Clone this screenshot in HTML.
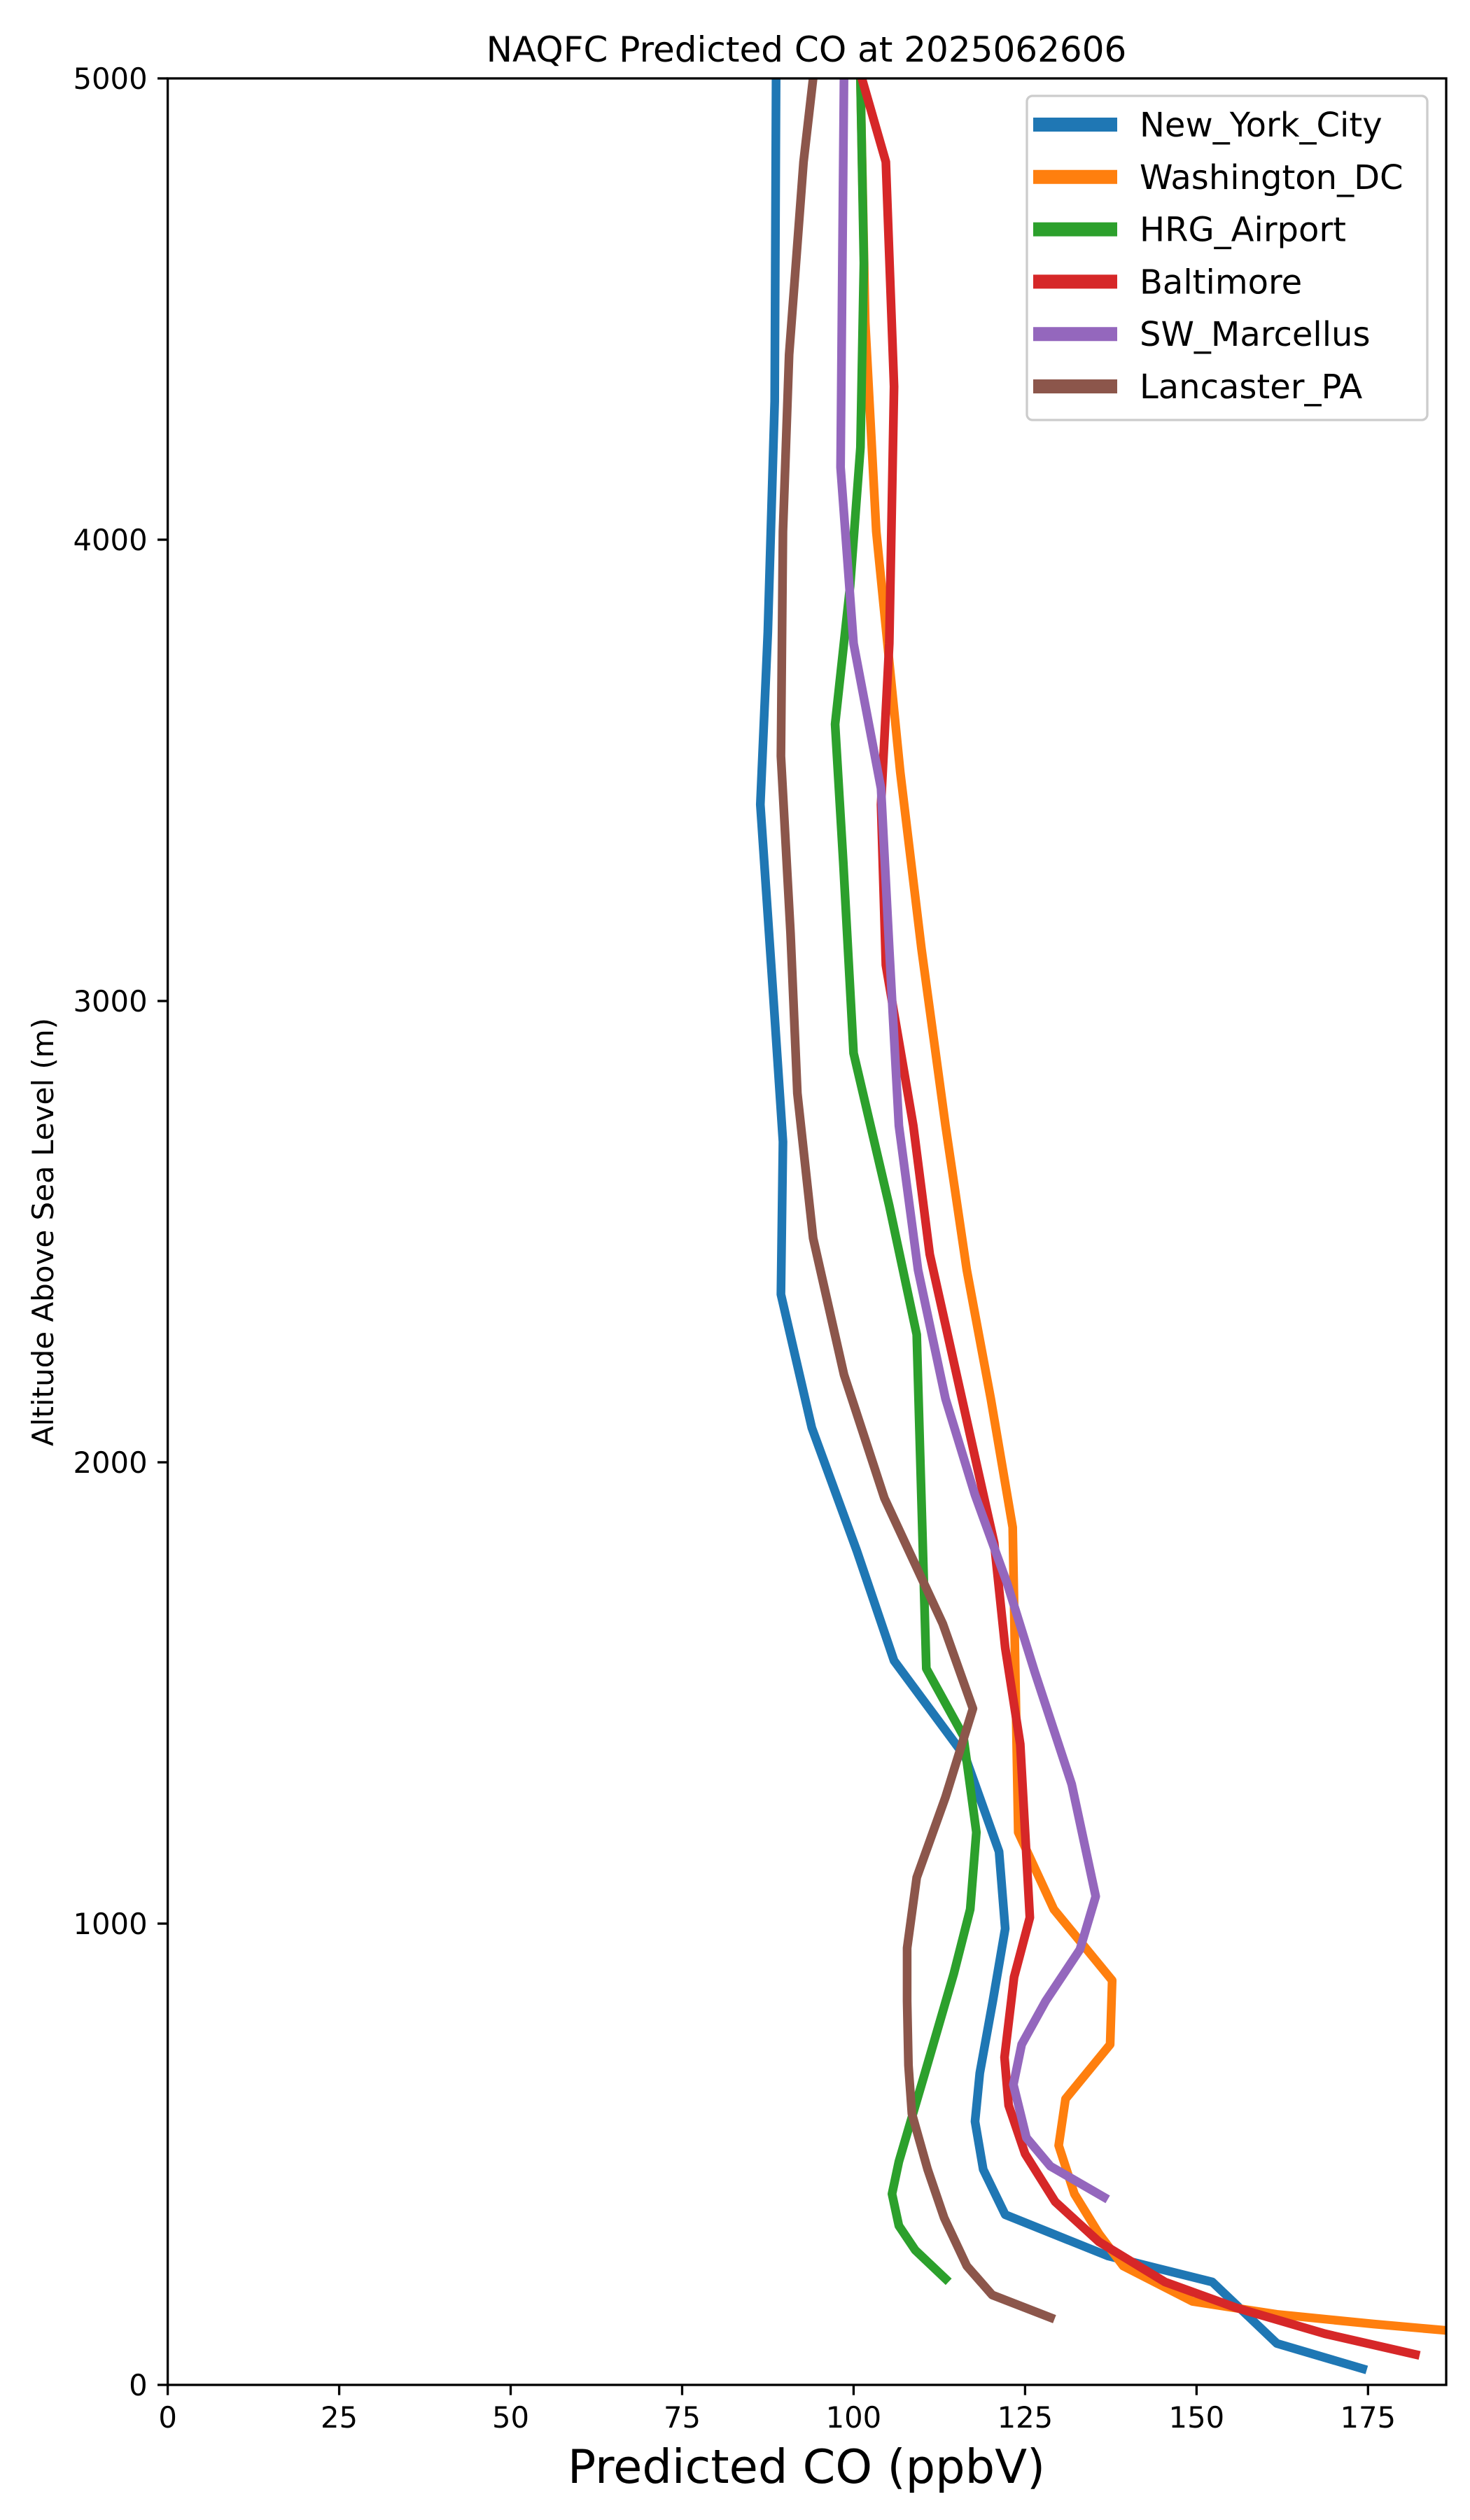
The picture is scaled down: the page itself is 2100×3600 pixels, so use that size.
<!DOCTYPE html>
<html><head><meta charset="utf-8"><style>
html,body{margin:0;padding:0;background:#fff}
svg{display:block;font-family:"DejaVu Sans","Liberation Sans",sans-serif}
</style></head><body>
<svg id="chart" width="2100" height="3600" viewBox="0 0 2100 3600" xmlns="http://www.w3.org/2000/svg">
<rect x="0" y="0" width="2100" height="3600" fill="#fff"/>
<text x="1152" y="88" font-size="50" text-anchor="middle">NAQFC Predicted CO at 2025062606</text>
<defs><clipPath id="plotclip"><rect x="239.6" y="112" width="1826.4" height="3295"/></clipPath></defs>
<g id="series" clip-path="url(#plotclip)"></g>
<g id="axes"></g>
<text x="1152" y="3547" font-size="67" text-anchor="middle">Predicted CO (ppbV)</text>
<text transform="translate(76,1760) rotate(-90)" font-size="42" text-anchor="middle">Altitude Above Sea Level (m)</text>
<g id="legend"></g>
</svg>
<script>
const seriesNames = ["New_York_City","Washington_DC","HRG_Airport","Baltimore","SW_Marcellus","Lancaster_PA"];
const seriesColors = ["#1f77b4","#ff7f0e","#2ca02c","#d62728","#9467bd","#8c564b"];
const nycCO = [88.7,88.5,87.5,86.4,88.3,89.7,89.4,93.9,100.5,105.9,116.3,121.2,122.1,120.3,118.4,117.7,118.9,122.1,137,152.3,161.7,174.2];
const nycAlt = [5000,4300,3800,3426,3008,2695,2364,2075,1807,1570,1361,1156,989,832,676,571,467,369,280,223,90,35];
const dcCO = [101,101.7,103.3,106.8,109.9,113.4,116.5,120,123.2,124,129.2,137.7,137.4,130.9,129.9,132.2,135.8,139.3,149.4,161.7,175.8,186.4,195];
const dcAlt = [5000,4471,4018,3496,3113,2730,2417,2138,1859,1198,1031,877,738,620,519,414,327,258,181,153,132,118,100];
const hrgCO = [101,101.5,101,99.5,97.3,98.5,100,105.2,109.2,109.7,110.6,116,117.9,117,114.6,110.4,106.6,105.6,106.6,109,113.4];
const hrgAlt = [5000,4600,4200,3900,3600,3300,2887,2556,2277,2016,1553,1407,1198,1031,891,676,484,414,345,292,230];
const balCO = [101.2,104.7,105.9,105.2,104,104.7,108.7,111.1,115.8,120.5,122.1,124.3,125.7,123.4,122,122.6,125,129.4,135.8,145.4,155.8,168.7,181.9];
const balAlt = [5000,4819,4332,3775,3426,3078,2730,2451,2138,1825,1598,1389,1013,884,710,606,501,397,310,223,167,111,66];
const swmCO = [98.6,98.1,100,104,105.2,106.6,109.4,113.4,117.7,122.4,126.4,131.8,135.3,133,128,124.5,123.3,125.2,128.7,136.5];
const swmAlt = [5000,4157,3775,3461,3113,2730,2417,2138,1929,1737,1546,1302,1059,944,832,738,651,536,474,407];
const lanCO = [94.1,92.7,90.6,89.7,89.4,90.8,91.8,94.1,98.6,104.5,113,117.4,113.4,109.2,107.8,107.8,108,108.5,110.8,113.2,116.5,120.2,128.7];
const lanAlt = [5000,4819,4401,4018,3531,3148,2800,2486,2190,1922,1650,1466,1274,1100,947,832,693,588,467,362,258,195,146];
const xTicks = [0,25,50,75,100,125,150,175];
const yTicks = [0,1000,2000,3000,4000,5000];
const xDomain = [0,186.4];
const yDomain = [0,5000];

const NS="http://www.w3.org/2000/svg";
const L=239.6,R=2066,T=112,B=3407;
function xs(v){return L+(v-xDomain[0])/(xDomain[1]-xDomain[0])*(R-L);}
function ys(v){return B-(v-yDomain[0])/(yDomain[1]-yDomain[0])*(B-T);}
function mk(tag,attrs,parent){const e=document.createElementNS(NS,tag);for(const k in attrs)e.setAttribute(k,attrs[k]);parent.appendChild(e);return e;}

const allCO=[nycCO,dcCO,hrgCO,balCO,swmCO,lanCO];
const allAlt=[nycAlt,dcAlt,hrgAlt,balAlt,swmAlt,lanAlt];
const sg=document.getElementById('series');
allCO.forEach((co,i)=>{
  const pts=co.map((v,j)=>xs(v).toFixed(1)+','+ys(allAlt[i][j]).toFixed(1)).join(' ');
  const p=mk('polyline',{points:pts,fill:'none',stroke:seriesColors[i],'stroke-width':12.5,'stroke-linejoin':'round','stroke-linecap':'square'},sg);
  
  
});

const ax=document.getElementById('axes');
const frame=mk('rect',{x:L,y:T,width:R-L,height:B-T,fill:'none',stroke:'#000','stroke-width':3.3},ax);


xTicks.forEach(t=>{
  const x=xs(t);
  const tk=mk('line',{x1:x,y1:B,x2:x,y2:B+14.6,stroke:'#000','stroke-width':3.3},ax);
  
  
  const tx=mk('text',{x:x,y:3468,'font-size':41.7,'text-anchor':'middle'},ax);
  tx.textContent=t;
  
  
});
yTicks.forEach(t=>{
  const y=ys(t);
  const tk=mk('line',{x1:L-14.6,y1:y,x2:L,y2:y,stroke:'#000','stroke-width':3.3},ax);
  
  
  const tx=mk('text',{x:L-29,y:y+15,'font-size':41.7,'text-anchor':'end'},ax);
  tx.textContent=t;
  
  
});

const lg=document.getElementById('legend');
const box=mk('rect',{x:1467,y:137,width:572,height:463,rx:8,fill:'#fff','fill-opacity':0.8,stroke:'#cccccc','stroke-width':3.3},lg);


seriesNames.forEach((n,i)=>{
  const y=178+i*74.8;
  const g=mk('g',{},lg);
  
  
  const h=mk('line',{x1:1476,y1:y,x2:1596,y2:y,stroke:seriesColors[i],'stroke-width':20},g);
  
  
  const t=mk('text',{x:1628,y:y+17,'font-size':48},g);
  t.textContent=n;
  
  
});
</script>
</body></html>
